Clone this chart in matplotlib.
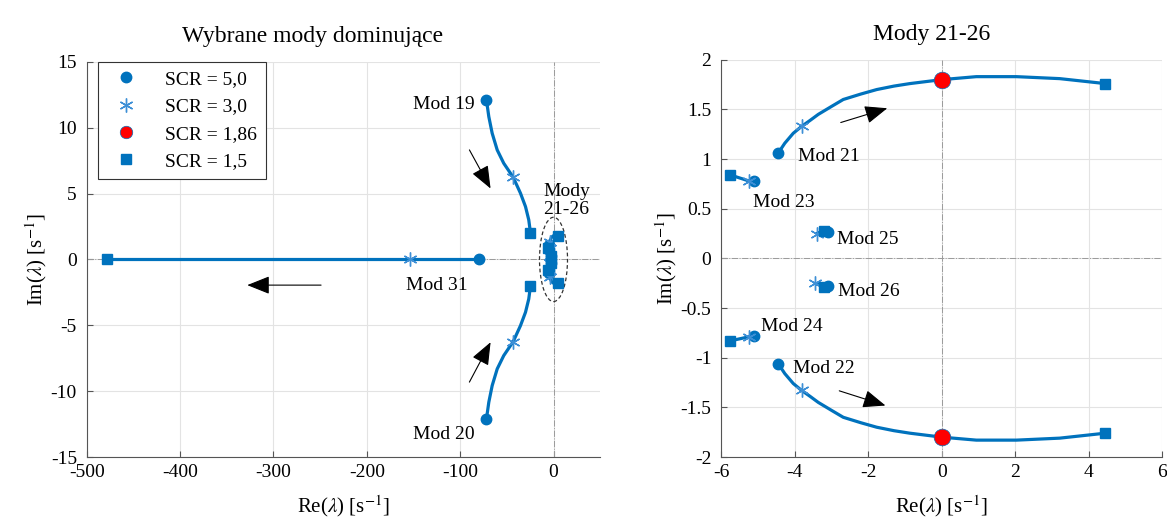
import matplotlib
matplotlib.use('Agg')
import matplotlib.pyplot as plt
from matplotlib.patches import Ellipse

plt.rcParams['font.family'] = ['Liberation Serif', 'DejaVu Serif']
plt.rcParams['mathtext.fontset'] = 'stix'
plt.rcParams['axes.unicode_minus'] = False
plt.rcParams['font.size'] = 14

BLUE = '#0072BD'

# trajectories of the dominant modes (Re, Im)
m19_re = [-71.8, -69.3, -65.7, -60.3, -53.3, -43.2, -35.4, -30.0, -26.5, -24.7]
m19_im = [12.1, 10.84, 9.58, 8.31, 7.30, 6.24, 5.03, 4.01, 3.0, 2.03]
m20_re = [-71.8, -69.3, -65.7, -60.3, -53.3, -43.2, -35.4, -30.0, -26.5, -24.7]
m20_im = [-12.1, -10.84, -9.58, -8.31, -7.30, -6.24, -5.03, -4.01, -3.0, -2.03]
m31_re = [-79.3, -154, -478]
m31_im = [0, 0, 0]

m21_re = [-4.45, -4.27, -4.04, -3.81, -3.58, -3.36, -3.0, -2.68, -2.2, -1.77, -1.3,
          -0.87, 0.0, 0.94, 2.03, 3.21, 4.45]
m21_im = [1.06, 1.16, 1.26, 1.33, 1.39, 1.45, 1.53, 1.60, 1.655, 1.70, 1.735,
          1.76, 1.80, 1.83, 1.83, 1.81, 1.76]
m22_re = [-4.45, -4.27, -4.04, -3.81, -3.58, -3.36, -3.0, -2.68, -2.2, -1.77, -1.3,
          -0.87, 0.0, 0.94, 2.03, 3.21, 4.45]
m22_im = [-1.06, -1.16, -1.26, -1.33, -1.39, -1.45, -1.53, -1.60, -1.655, -1.70, -1.735,
          -1.76, -1.80, -1.83, -1.83, -1.81, -1.76]
m23_re = [-5.1, -5.25, -5.75]
m23_im = [0.78, 0.78, 0.84]
m24_re = [-5.1, -5.25, -5.75]
m24_im = [-0.78, -0.79, -0.83]
m25_re = [-3.1, -3.4, -3.2]
m25_im = [0.27, 0.25, 0.28]
m26_re = [-3.1, -3.45, -3.2]
m26_im = [-0.28, -0.25, -0.29]

# eigenvalues for each SCR value (modes 19, 20, 31, 21, 22, 23, 24, 25, 26)
scr50_re = [-71.8, -71.8, -79.3, -4.45, -4.45, -5.1, -5.1, -3.1, -3.1]
scr50_im = [12.1, -12.1, 0, 1.06, -1.06, 0.78, -0.78, 0.27, -0.28]
scr30_re = [-43.2, -43.2, -154, -3.81, -3.81, -5.25, -5.25, -3.4, -3.45]
scr30_im = [6.24, -6.24, 0, 1.33, -1.33, 0.78, -0.79, 0.25, -0.25]
scr186_re = [0.0, 0.0]
scr186_im = [1.80, -1.80]
scr15_re = [-24.7, -24.7, -478, 4.45, 4.45, -5.75, -5.75, -3.2, -3.2]
scr15_im = [2.03, -2.03, 0, 1.76, -1.76, 0.84, -0.83, 0.28, -0.29]

small_modes = [(m21_re, m21_im), (m22_re, m22_im), (m23_re, m23_im),
               (m24_re, m24_im), (m25_re, m25_im), (m26_re, m26_im)]

fig = plt.figure(figsize=(11.67, 5.22), dpi=100)
ax1 = fig.add_axes([0.0743, 0.1245, 0.44, 0.757])
ax2 = fig.add_axes([0.618, 0.1245, 0.378, 0.761])


def style_axes(ax):
    ax.grid(True, color='#e3e3e3', lw=0.8)
    ax.set_axisbelow(True)
    for s in ['top', 'right']:
        ax.spines[s].set_visible(False)
    for s in ['left', 'bottom']:
        ax.spines[s].set_color('#555555')
    ax.tick_params(direction='in', length=4, color='#555555', labelsize=14)
    ax.tick_params(axis='x', pad=5)
    ax.tick_params(axis='y', pad=7)
    ax.axhline(0, color='#9a9a9a', lw=0.7, ls='-.', zorder=1)
    ax.axvline(0, color='#9a9a9a', lw=0.7, ls='-.', zorder=1)
    ax.set_xlabel(r'Re($\lambda$) [s$^{-1}$]', fontsize=15, labelpad=9)
    ax.set_ylabel(r'Im($\lambda$) [s$^{-1}$]', fontsize=15, labelpad=1)


def draw_markers(ax, with_red):
    ax.plot(scr50_re, scr50_im, 'o', color=BLUE, ms=7.5, ls='none', zorder=4, label='SCR = 5,0')
    ax.plot(scr30_re, scr30_im, marker=(6, 2, 0), color='#3d8fd6', ms=10, mew=1.0,
            ls='none', zorder=4, label='SCR = 3,0')
    if with_red:
        ax.plot(scr186_re, scr186_im, 'o', mfc='red', mec=BLUE, mew=0.5, ms=12,
                ls='none', zorder=5, label='SCR = 1,86')
    else:
        ax.plot([], [], 'o', mfc='red', mec=BLUE, mew=0.5, ms=9, ls='none', label='SCR = 1,86')
    ax.plot(scr15_re, scr15_im, 's', color=BLUE, ms=7.5, ls='none', zorder=4, label='SCR = 1,5')


arrow = dict(arrowstyle='-|>,head_length=1.0,head_width=0.4', color='k', lw=0.8)

# left panel
style_axes(ax1)
for re, im in [(m19_re, m19_im), (m20_re, m20_im), (m31_re, m31_im)] + small_modes:
    ax1.plot(re, im, color=BLUE, lw=2.3, zorder=3)
draw_markers(ax1, with_red=False)
ax1.set_xlim(-500, 50)
ax1.set_ylim(-15, 15)
ax1.set_xticks([-500, -400, -300, -200, -100, 0])
ax1.set_yticks([-15, -10, -5, 0, 5, 10, 15])
ax1.set_title('Wybrane mody dominujące', fontsize=17, pad=14, x=0.44)
ax1.add_patch(Ellipse((0, 0), 30, 6.4, fill=False, ls=(0, (3, 2)), lw=0.9, ec='#333333', zorder=2))
ax1.text(-84, 11.8, 'Mod 19', ha='right', va='center', fontsize=14)
ax1.text(-84, -13.3, 'Mod 20', ha='right', va='center', fontsize=14)
ax1.text(-125, -1.95, 'Mod 31', ha='center', va='center', fontsize=14)
ax1.text(14, 4.5, 'Mody\n21-26', ha='center', va='center', fontsize=14, linespacing=1.1)
ax1.annotate('', xy=(-66, 5.2), xytext=(-91.5, 8.5), arrowprops=arrow)
ax1.annotate('', xy=(-66, -6.1), xytext=(-91.5, -9.5), arrowprops=arrow)
ax1.annotate('', xy=(-331, -1.95), xytext=(-246, -1.95), arrowprops=arrow)
leg = ax1.legend(loc='upper left', bbox_to_anchor=(0.022, 1.0), borderaxespad=0, fontsize=14,
                 frameon=True, fancybox=False, edgecolor='#333333', handletextpad=1.0,
                 borderpad=0.45, labelspacing=0.5, framealpha=1)
leg.get_frame().set_linewidth(0.8)

# right panel
style_axes(ax2)
for re, im in small_modes:
    ax2.plot(re, im, color=BLUE, lw=2.3, zorder=3)
draw_markers(ax2, with_red=True)
ax2.set_xlim(-6, 6)
ax2.set_ylim(-2, 2)
ax2.set_xticks([-6, -4, -2, 0, 2, 4, 6])
ax2.set_yticks([-2, -1.5, -1, -0.5, 0, 0.5, 1, 1.5, 2])
ax2.set_yticklabels(['-2', '-1.5', '-1', '-0.5', '0', '0.5', '1', '1.5', '2'])
ax2.set_xticklabels(['-6', '-4', '-2', '0', '2', '4', '6'])
ax2.set_title('Mody 21-26', fontsize=17, pad=14, x=0.478)
ax2.text(-3.9, 1.03, 'Mod 21', ha='left', va='center', fontsize=14)
ax2.text(-5.14, 0.56, 'Mod 23', ha='left', va='center', fontsize=14)
ax2.text(-2.86, 0.19, 'Mod 25', ha='left', va='center', fontsize=14)
ax2.text(-2.82, -0.33, 'Mod 26', ha='left', va='center', fontsize=14)
ax2.text(-4.93, -0.69, 'Mod 24', ha='left', va='center', fontsize=14)
ax2.text(-4.04, -1.11, 'Mod 22', ha='left', va='center', fontsize=14)
ax2.annotate('', xy=(-1.41, 1.52), xytext=(-2.82, 1.36), arrowprops=arrow)
ax2.annotate('', xy=(-1.46, -1.49), xytext=(-2.86, -1.325), arrowprops=arrow)

fig.savefig('out.png', dpi=100)
